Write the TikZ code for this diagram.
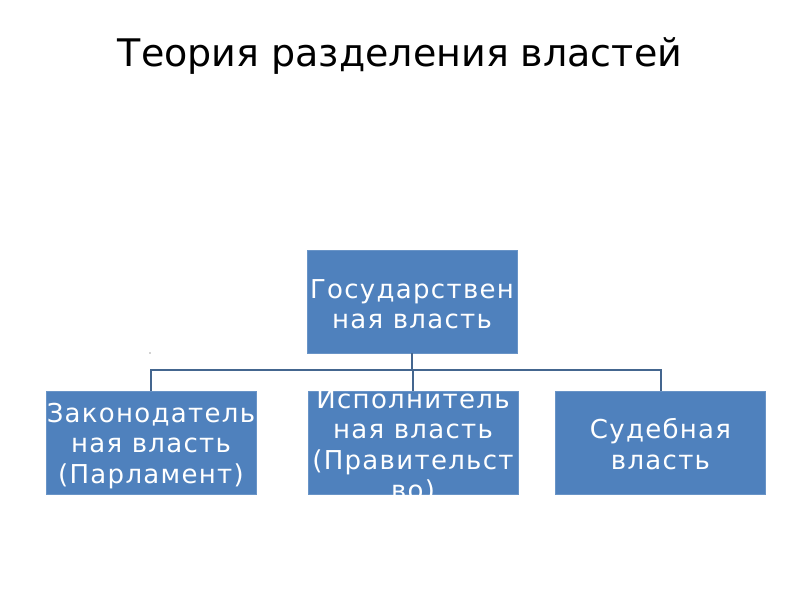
\documentclass[tikz,border=0pt]{standalone}
\usepackage{fontspec}
\setmainfont{DejaVu Sans}
\newfontfamily\boxfont[LetterSpace=5]{DejaVu Sans}
\definecolor{boxblue}{HTML}{4F81BD}
\definecolor{connblue}{HTML}{44668F}
\tikzset{
  x=1pt, y=-1pt,
  powerbox/.style={rectangle, fill=boxblue, draw=boxblue!85!white, line width=0.8pt,
    minimum width=210pt, minimum height=103pt, inner sep=0pt},
  boxtext/.style={text=white, align=center, inner sep=0pt,
    font=\boxfont\fontsize{26}{30.5}\selectfont},
  conn/.style={draw=connblue, line width=2pt}
}
\begin{document}
\begin{tikzpicture}
\useasboundingbox[fill=white] (0,0) rectangle (800,600);
\node[anchor=base, font=\fontsize{38}{44}\selectfont] (title) at (400,66) {Теория разделения властей};

\node[powerbox] (top) at (412,301.5) {};
\node[powerbox] (left) at (151,443) {};
\node[powerbox] (mid) at (413,443) {};
\node[powerbox] (right) at (660.5,443) {};

\coordinate (bus) at (412,370);
\draw[conn] (top.south) -- (bus);
\draw[conn] (left.north) |- (bus);
\draw[conn] (right.north) |- (bus);
\draw[conn] (mid.north) -- (mid.north |- bus);

\node[boxtext] (toptext) at (412,304) {Государствен\\ная власть};
\node[boxtext] (lefttext) at (151,445.7) {Законодатель\\ная власть\\(Парламент)};
\begin{scope}
  \clip (mid.north west) rectangle (mid.south east);
  \node[boxtext] (midtext) at (413,446) {Исполнитель\\ная власть\\(Правительст\\во)};
\end{scope}
\node[boxtext] (righttext) at (660.5,444.3) {Судебная\\власть};

\fill[gray!70] (150,353) circle (0.9pt);
\end{tikzpicture}
\end{document}
